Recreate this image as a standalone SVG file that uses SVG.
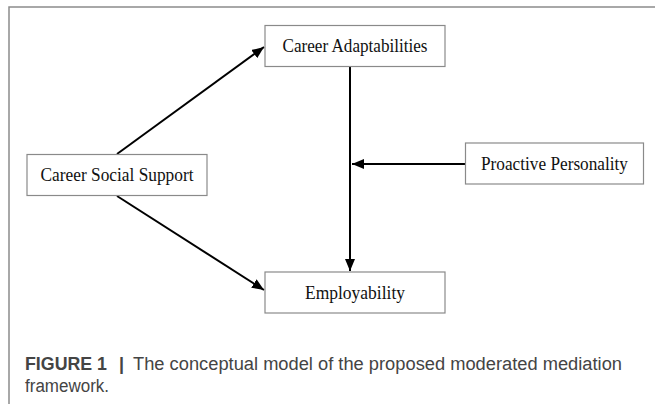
<svg xmlns="http://www.w3.org/2000/svg" width="655" height="404" viewBox="0 0 655 404">
<style>
.frame{fill:none;stroke:#8c8c8c;stroke-width:1.5}
.box{fill:#fff;stroke:#8a8a8a;stroke-width:1.2}
.lbl{font-family:"Liberation Serif","Times New Roman",serif;font-size:19px;fill:#111;text-anchor:middle}
.edge{stroke:#000;stroke-width:2;fill:none}
.cap{font-family:"Liberation Sans",Arial,sans-serif;font-size:18px;fill:#444}
</style>
<defs>
<marker id="ah" markerUnits="userSpaceOnUse" markerWidth="12" markerHeight="10" refX="12" refY="5" orient="auto">
<path d="M0,0 L12,5 L0,10 z" fill="#000"/>
</marker>
</defs>
<rect width="655" height="404" fill="#fff"/>
<path class="frame" d="M9,404 L9,7 L655,7"/>
<g id="connectors">
<line class="edge" x1="117" y1="154" x2="264" y2="47" marker-end="url(#ah)"/>
<line class="edge" x1="117" y1="196" x2="264" y2="290" marker-end="url(#ah)"/>
<line class="edge" x1="350" y1="67" x2="350" y2="271" marker-end="url(#ah)"/>
<line class="edge" x1="465" y1="164" x2="352" y2="164" marker-end="url(#ah)"/>
</g>
<g id="career-adaptabilities">
<rect class="box" x="265" y="25.5" width="180" height="41"/>
<text class="lbl" x="355" y="51.5" textLength="145" lengthAdjust="spacingAndGlyphs">Career Adaptabilities</text>
</g>
<g id="career-social-support">
<rect class="box" x="27" y="154.5" width="180" height="41"/>
<text class="lbl" x="117" y="180.5" textLength="153" lengthAdjust="spacingAndGlyphs">Career Social Support</text>
</g>
<g id="proactive-personality">
<rect class="box" x="465.5" y="143" width="178" height="41"/>
<text class="lbl" x="554.5" y="169.5" textLength="147" lengthAdjust="spacingAndGlyphs">Proactive Personality</text>
</g>
<g id="employability">
<rect class="box" x="265" y="272" width="180" height="41"/>
<text class="lbl" x="355" y="298.5" textLength="100" lengthAdjust="spacingAndGlyphs">Employability</text>
</g>
<g id="caption">
<text class="cap" x="25" y="370" font-weight="bold" fill="#333" textLength="82" lengthAdjust="spacingAndGlyphs">FIGURE 1</text>
<text class="cap" x="119" y="370" font-weight="bold" fill="#333">|</text>
<text class="cap" x="133" y="370" textLength="489" lengthAdjust="spacingAndGlyphs">The conceptual model of the proposed moderated mediation</text>
<text class="cap" x="25" y="392" textLength="84" lengthAdjust="spacingAndGlyphs">framework.</text>
</g>
</svg>
